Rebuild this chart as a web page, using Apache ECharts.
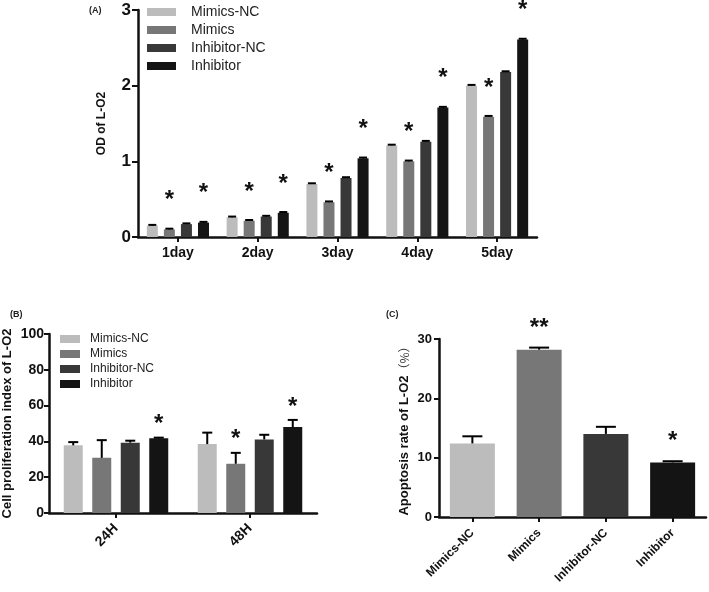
<!DOCTYPE html>
<html><head><meta charset="utf-8">
<script src="https://cdn.jsdelivr.net/npm/echarts@6/dist/echarts.min.js"></script>
<style>html,body{margin:0;padding:0;background:#fff}#c{width:709px;height:592px}</style>
</head><body><div id="c"></div>
<script>
// ---------- data ----------
const groupNames = ['Mimics-NC', 'Mimics', 'Inhibitor-NC', 'Inhibitor'];
const groupColors = ['#bcbcbc', '#777777', '#383838', '#141414'];

// (A) OD of L-O2
const daysA = ['1day', '2day', '3day', '4day', '5day'];
const odMimicsNC    = [0.15, 0.26, 0.70, 1.21, 2.00];
const odMimics      = [0.10, 0.215, 0.46, 1.00, 1.59];
const odInhibitorNC = [0.17, 0.27, 0.78, 1.26, 2.18];
const odInhibitor   = [0.19, 0.32, 1.04, 1.71, 2.61];
const odErrMimicsNC    = [0.01, 0.01, 0.01, 0.01, 0.01];
const odErrMimics      = [0.01, 0.01, 0.01, 0.01, 0.01];
const odErrInhibitorNC = [0.01, 0.01, 0.01, 0.01, 0.01];
const odErrInhibitor   = [0.01, 0.01, 0.01, 0.01, 0.01];
const odSigMimicsNC    = [0, 0, 0, 0, 0];
const odSigMimics      = [1, 1, 1, 1, 1];
const odSigInhibitorNC = [0, 0, 0, 0, 0];
const odSigInhibitor   = [1, 1, 1, 1, 1];
const ticksA = [0, 1, 2, 3];

// (B) Cell proliferation index
const timesB = ['24H', '48H'];
const cpMimicsNC    = [37.8, 38.5];
const cpMimics      = [30.8, 27.5];
const cpInhibitorNC = [39.3, 41.1];
const cpInhibitor   = [41.7, 48.0];
const cpErrMimicsNC    = [1.8, 6.4];
const cpErrMimics      = [9.9, 6.1];
const cpErrInhibitorNC = [1.1, 2.6];
const cpErrInhibitor   = [0.4, 4.0];
const cpSigMimicsNC    = [0, 0];
const cpSigMimics      = [0, 1];
const cpSigInhibitorNC = [0, 0];
const cpSigInhibitor   = [1, 1];
const ticksB = [0, 20, 40, 60, 80, 100];

// (C) Apoptosis rate
const groupsC = ['Mimics-NC', 'Mimics', 'Inhibitor-NC', 'Inhibitor'];
const apoptosis    = [12.4, 28.2, 14.0, 9.2];
const apoptosisErr = [1.2, 0.35, 1.2, 0.2];
const apoptosisSig = [0, 2, 0, 1];
const ticksC = [0, 10, 20, 30];

// ---------- chart ----------
const FONT = '"Liberation Sans", Arial, sans-serif';
const valsA = [odMimicsNC, odMimics, odInhibitorNC, odInhibitor];
const errsA = [odErrMimicsNC, odErrMimics, odErrInhibitorNC, odErrInhibitor];
const sigsA = [odSigMimicsNC, odSigMimics, odSigInhibitorNC, odSigInhibitor];
const valsB = [cpMimicsNC, cpMimics, cpInhibitorNC, cpInhibitor];
const errsB = [cpErrMimicsNC, cpErrMimics, cpErrInhibitorNC, cpErrInhibitor];
const sigsB = [cpSigMimicsNC, cpSigMimics, cpSigInhibitorNC, cpSigInhibitor];

function errRender(vals, errs, sigs, idx, nGroups, bw, gap, capW, starDist, starSize) {
  return function (params, api) {
    const i = params.dataIndex;
    const v = vals[i], e = errs[i], s = sigs[i];
    const base = api.coord([i, v]);
    const top = api.coord([i, v + e]);
    const step = bw * (1 + gap);
    const x = base[0] + (idx - (nGroups - 1) / 2) * step;
    const st = { stroke: '#000', lineWidth: 2 };
    const children = [
      { type: 'line', shape: { x1: x, y1: base[1], x2: x, y2: top[1] }, style: st },
      { type: 'line', shape: { x1: x - capW / 2, y1: top[1], x2: x + capW / 2, y2: top[1] }, style: st }
    ];
    if (s > 0) {
      children.push({ type: 'text', x: x, y: top[1] - starDist,
        style: { text: '*'.repeat(s), fill: '#111', font: 'bold ' + starSize + 'px ' + FONT,
                 textAlign: 'center', textVerticalAlign: 'middle' } });
    }
    return { type: 'group', children: children };
  };
}

const series = [];
const bwA = 11, gapA = 0.55, bwB = 19, gapB = 0.5;
groupNames.forEach((n, k) => {
  series.push({ name: n, type: 'bar', xAxisIndex: 0, yAxisIndex: 0, data: valsA[k],
    barWidth: bwA, barGap: (gapA * 100) + '%', itemStyle: { color: groupColors[k] }, silent: true });
});
groupNames.forEach((n, k) => {
  series.push({ type: 'custom', xAxisIndex: 0, yAxisIndex: 0, data: valsA[k].map((v, i) => [i, v]), clip: false,
    renderItem: errRender(valsA[k], errsA[k], sigsA[k], k, 4, bwA, gapA, 8, 28, 24), z: 5, silent: true });
});
groupNames.forEach((n, k) => {
  series.push({ name: n, type: 'bar', xAxisIndex: 1, yAxisIndex: 1, data: valsB[k],
    barWidth: bwB, barGap: (gapB * 100) + '%', itemStyle: { color: groupColors[k] }, silent: true });
});
groupNames.forEach((n, k) => {
  series.push({ type: 'custom', xAxisIndex: 1, yAxisIndex: 1, data: valsB[k].map((v, i) => [i, v]), clip: false,
    renderItem: errRender(valsB[k], errsB[k], sigsB[k], k, 4, bwB, gapB, 10, 13, 24), z: 5, silent: true });
});
series.push({ type: 'bar', xAxisIndex: 2, yAxisIndex: 2, barWidth: 45, silent: true,
  data: apoptosis.map((v, i) => ({ value: v, itemStyle: { color: groupColors[i] } })) });
series.push({ type: 'custom', xAxisIndex: 2, yAxisIndex: 2, data: apoptosis.map((v, i) => [i, v]), z: 5, silent: true, clip: false,
  renderItem: errRender(apoptosis, apoptosisErr, apoptosisSig, 0, 1, 45, 0, 20, 19.5, 24) });

const axisLineStyle = { show: true, lineStyle: { color: '#111', width: 2.5 } };
const tickStyle = (len) => ({ show: true, length: len, lineStyle: { color: '#111', width: 2 } });

const option = {
  animation: false,
  backgroundColor: '#fff',
  textStyle: { fontFamily: FONT },
  title: [
    { text: '(A)', left: 84, top: 1, textStyle: { fontSize: 9, fontWeight: 'bold', color: '#222', fontFamily: FONT } },
    { text: '(B)', left: 5, top: 305, textStyle: { fontSize: 9, fontWeight: 'bold', color: '#222', fontFamily: FONT } },
    { text: '(C)', left: 381, top: 305, textStyle: { fontSize: 9, fontWeight: 'bold', color: '#222', fontFamily: FONT } }
  ],
  legend: [
    { data: groupNames, orient: 'vertical', left: 147, top: 5, padding: 0, itemWidth: 29, itemHeight: 8, itemGap: 4,
      icon: 'rect', selectedMode: false,
      textStyle: { fontSize: 14, lineHeight: 14, color: '#222', fontFamily: FONT, padding: [0, 0, 0, 10] } },
    { data: groupNames, orient: 'vertical', left: 60, top: 333, padding: 0, itemWidth: 20, itemHeight: 8, itemGap: 3,
      icon: 'rect', selectedMode: false,
      textStyle: { fontSize: 12, lineHeight: 12, color: '#222', fontFamily: FONT, padding: [0, 0, 0, 5] } }
  ],
  grid: [
    { left: 138, top: 10, width: 399, height: 227 },
    { left: 49, top: 334, width: 268, height: 179 },
    { left: 439, top: 339, width: 267, height: 178 }
  ],
  xAxis: [
    { type: 'category', gridIndex: 0, data: daysA, axisLine: axisLineStyle,
      axisTick: Object.assign(tickStyle(5), { alignWithLabel: true }),
      axisLabel: { fontSize: 14, fontWeight: 'bold', color: '#111', margin: 9, fontFamily: FONT } },
    { type: 'category', gridIndex: 1, data: timesB, axisLine: axisLineStyle,
      axisTick: Object.assign(tickStyle(5), { alignWithLabel: true }),
      axisLabel: { fontSize: 14, fontWeight: 'bold', color: '#111', rotate: 45, margin: 13, fontFamily: FONT } },
    { type: 'category', gridIndex: 2, data: groupsC, axisLine: axisLineStyle,
      axisTick: Object.assign(tickStyle(5), { alignWithLabel: true }),
      axisLabel: { fontSize: 12, fontWeight: 'bold', color: '#111', rotate: 45, margin: 14, fontFamily: FONT } }
  ],
  yAxis: [
    { type: 'value', gridIndex: 0, min: ticksA[0], max: ticksA[ticksA.length - 1], interval: 1,
      axisLine: axisLineStyle, axisTick: tickStyle(6), splitLine: { show: false },
      axisLabel: { fontSize: 17, fontWeight: 'bold', color: '#111', margin: 7, fontFamily: FONT },
      name: 'OD of L-O2', nameLocation: 'middle', nameGap: 30,
      nameTextStyle: { fontSize: 12, fontWeight: 'bold', color: '#111', fontFamily: FONT } },
    { type: 'value', gridIndex: 1, min: ticksB[0], max: ticksB[ticksB.length - 1], interval: 20,
      axisLine: axisLineStyle, axisTick: tickStyle(5), splitLine: { show: false },
      axisLabel: { fontSize: 14, fontWeight: 'bold', color: '#111', margin: 5, fontFamily: FONT },
      name: 'Cell proliferation index of L-O2', nameLocation: 'middle', nameGap: 35,
      nameTextStyle: { fontSize: 13, fontWeight: 'bold', color: '#111', fontFamily: FONT } },
    { type: 'value', gridIndex: 2, min: ticksC[0], max: ticksC[ticksC.length - 1], interval: 10,
      axisLine: axisLineStyle, axisTick: tickStyle(5), splitLine: { show: false },
      axisLabel: { fontSize: 13, fontWeight: 'bold', color: '#111', margin: 7, fontFamily: FONT },
      name: '{b|Apoptosis rate of L-O2}{n|（%）}', nameLocation: 'middle', nameGap: 28,
      nameTextStyle: { color: '#111', fontFamily: FONT,
        rich: { b: { fontSize: 13, fontWeight: 'bold', fontFamily: FONT, color: '#111' },
                n: { fontSize: 12, fontFamily: '"Noto Sans CJK SC", ' + FONT, color: '#333' } } } }
  ],
  series: series
};
echarts.init(document.getElementById('c'), null, { renderer: 'canvas' }).setOption(option);
</script>
</body></html>
